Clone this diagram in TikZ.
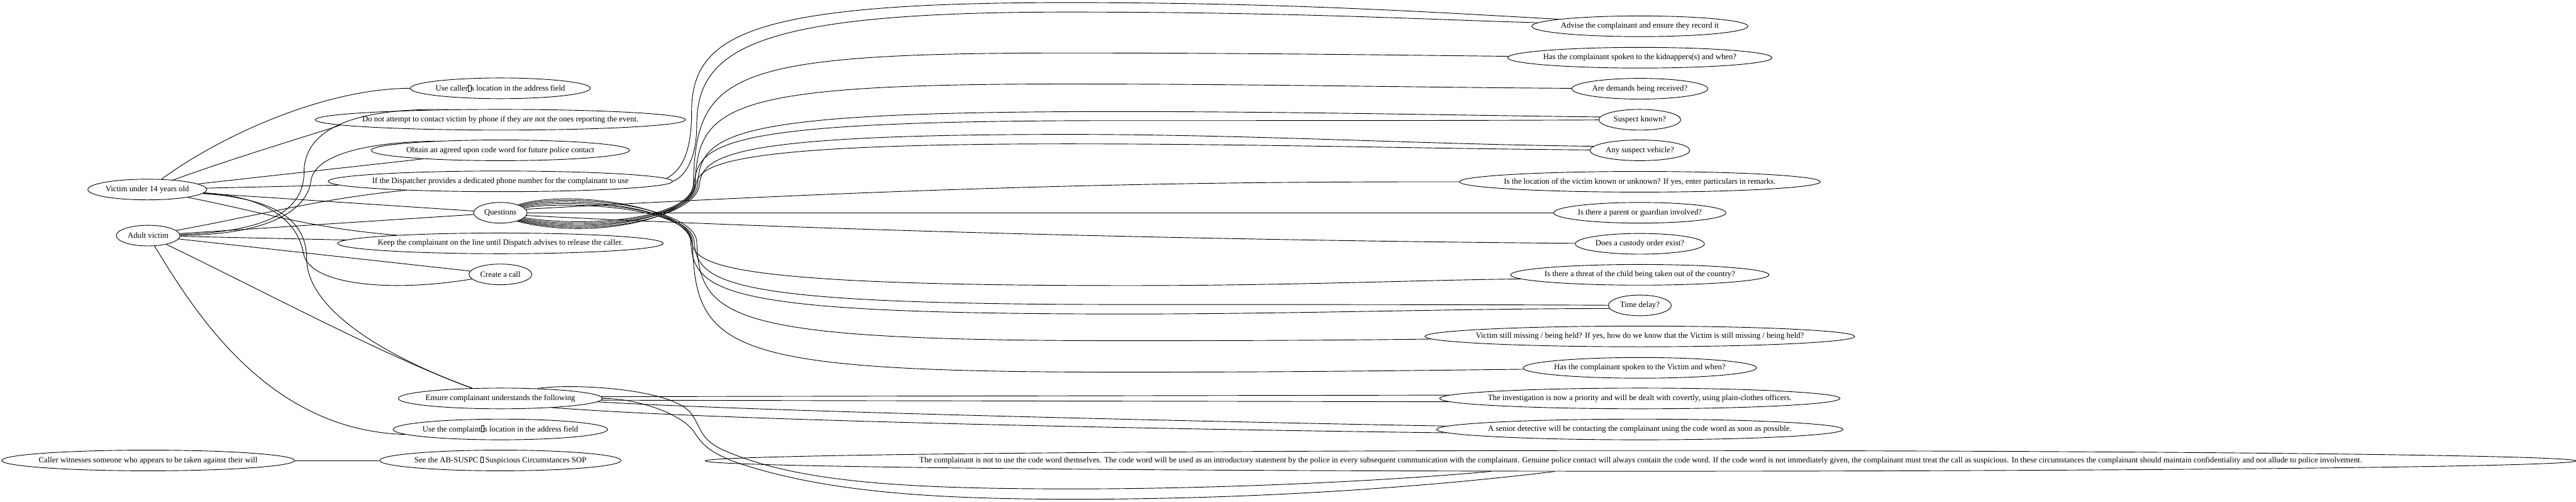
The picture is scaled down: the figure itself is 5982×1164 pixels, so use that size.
\documentclass[tikz,border=0pt]{standalone}
\usepackage{fontspec}
\setmainfont{Liberation Serif}
\usetikzlibrary{shapes.geometric}
\newcommand{\lbl}[1]{\makebox[0pt]{#1}}
\newcommand{\nochar}{{\fboxsep=0pt\fboxrule=0.5pt\fbox{\rule{0pt}{0.72em}\hspace{0.32em}}}}

\begin{document}
\begin{tikzpicture}[x=0.75pt, y=-0.75pt, line width=1pt,
  sopnode/.style={draw, ellipse, inner sep=0pt, minimum height=36pt, font=\fontsize{14pt}{16pt}\selectfont}]
  \useasboundingbox (0,0) rectangle (5982,1164);

  \node[sopnode, minimum width=207pt] (u14) at (342,440) {\lbl{Victim under 14 years old}};
  \node[sopnode, minimum width=111pt] (adult) at (344,547) {\lbl{Adult victim}};
  \node[sopnode, minimum width=510pt] (wit) at (344,1069) {\lbl{Caller witnesses someone who appears to be taken against their will}};

  \node[sopnode, minimum width=313.5pt] (ucl) at (1162,205) {\lbl{Use caller\nochar s location in the address field}};
  \node[sopnode, minimum width=645pt] (nophone) at (1162,278) {\lbl{Do not attempt to contact victim by phone if they are not the ones reporting the event.}};
  \node[sopnode, minimum width=450pt] (code) at (1162,349) {\lbl{Obtain an agreed upon code word for future police contact}};
  \node[sopnode, minimum width=600pt] (disp) at (1162,421) {\lbl{If the Dispatcher provides a dedicated phone number for the complainant to use}};
  \node[sopnode, minimum width=93pt] (quest) at (1162,494) {\lbl{Questions}};
  \node[sopnode, minimum width=567pt] (keep) at (1162,565) {\lbl{Keep the complainant on the line until Dispatch advises to release the caller.}};
  \node[sopnode, minimum width=109.5pt] (call) at (1162,637) {\lbl{Create a call}};
  \node[sopnode, minimum width=355.5pt] (ensure) at (1162,925) {\lbl{Ensure complainant understands the following}};
  \node[sopnode, minimum width=373.5pt] (ucompl) at (1162,997) {\lbl{Use the complaint\nochar s location in the address field}};
  \node[sopnode, minimum width=420pt] (suspc) at (1162,1069) {\lbl{See the AB-SUSPC \nochar{} Suspicious Circumstances SOP}};

  \node[sopnode, minimum width=376.5pt] (advise) at (3808,61) {\lbl{Advise the complainant and ensure they record it}};
  \node[sopnode, minimum width=460.5pt] (kidnap) at (3808,134) {\lbl{Has the complainant spoken to the kidnappers(s) and when?}};
  \node[sopnode, minimum width=237pt] (demands) at (3808,206) {\lbl{Are demands being received?}};
  \node[sopnode, minimum width=142.5pt] (suspect) at (3808,278) {\lbl{Suspect known?}};
  \node[sopnode, minimum width=174pt] (vehicle) at (3808,349) {\lbl{Any suspect vehicle?}};
  \node[sopnode, minimum width=628.5pt] (location) at (3808,422) {\lbl{Is the location of the victim known or unknown? If yes, enter particulars in remarks.}};
  \node[sopnode, minimum width=300pt] (parent) at (3808,494) {\lbl{Is there a parent or guardian involved?}};
  \node[sopnode, minimum width=225pt] (custody) at (3808,566) {\lbl{Does a custody order exist?}};
  \node[sopnode, minimum width=450pt] (threat) at (3808,638) {\lbl{Is there a threat of the child being taken out of the country?}};
  \node[sopnode, minimum width=109.5pt] (delay) at (3808,709) {\lbl{Time delay?}};
  \node[sopnode, minimum width=748.5pt] (missing) at (3808,781) {\lbl{Victim still missing / being held? If yes, how do we know that the Victim is still missing / being held?}};
  \node[sopnode, minimum width=406.5pt] (spoken) at (3808,854) {\lbl{Has the complainant spoken to the Victim and when?}};
  \node[sopnode, minimum width=697.5pt] (invest) at (3808,925) {\lbl{The investigation is now a priority and will be dealt with covertly, using plain-clothes officers.}};
  \node[sopnode, minimum width=708pt] (senior) at (3808,997) {\lbl{A senior detective will be contacting the complainant using the code word as soon as possible.}};
  \node[sopnode, minimum width=3258pt] (codeword) at (3810,1070) {\lbl{The complainant is not to use the code word themselves. The code word will be used as an introductory statement by the police in every subsequent communication with the complainant. Genuine police contact will always contain the code word. If the code word is not immediately given, the complainant must treat the call as suspicious. In these circumstances the complainant should maintain confidentiality and not allude to police involvement.}};

  \draw (u14) .. controls (520,310) and (760,205) .. (ucl);
  \draw (u14) .. controls (560,360) and (800,290) .. (nophone);
  \draw (u14) -- (code);
  \draw (u14) -- (disp);
  \draw (u14) -- (quest);
  \draw (u14) .. controls (600,490) and (720,530) .. (keep);
  \draw (u14) .. controls (600,455) and (690,500) .. (705,590) .. controls (720,660) and (900,680) .. (call);
  \draw (u14) .. controls (620,460) and (712,500) .. (712,600) .. controls (712,720) and (900,830) .. (ensure);

  \draw (adult) .. controls (620,538) and (706,490) .. (706,400) .. controls (706,300) and (820,250) .. (nophone.169);
  \draw (adult) .. controls (640,545) and (715,480) .. (722,420) .. controls (730,360) and (850,330) .. (code.172);
  \draw (adult) .. controls (600,500) and (750,460) .. (disp);
  \draw (adult) -- (quest);
  \draw (adult) -- (keep);
  \draw (adult) -- (call);
  \draw (adult) .. controls (620,680) and (900,830) .. (ensure);
  \draw (adult) .. controls (450,720) and (620,1000) .. (ucompl.183);

  \draw (wit) -- (suspc);

  \draw (disp.1) .. controls (1585,395) and (1606,350) .. (1606,260) .. controls (1606,80) and (1740,6) .. (2480,6) .. controls (3000,6) and (3350,30) .. (advise.175);
  \draw (disp.east) .. controls (1590,410) and (1618,370) .. (1618,290) .. controls (1618,110) and (1760,28) .. (2480,28) .. controls (3000,28) and (3300,45) .. (advise.178);

  \draw (quest.-12) .. controls (1380,530) and (1602,505) .. (1610,430) .. controls (1616,170) and (1685,123) .. (2480,123) .. controls (2900,123) and (3250,128) .. (kidnap);
  \draw (quest.-15) .. controls (1380,536) and (1606,505) .. (1614,430) .. controls (1620,242) and (1689,195) .. (2480,195) .. controls (2900,195) and (3300,203) .. (demands);
  \draw (quest.-18) .. controls (1380,542) and (1612,505) .. (1620,430) .. controls (1626,306) and (1695,259) .. (2600,259) .. controls (3000,259) and (3400,268) .. (suspect.176);
  \draw (quest.-21) .. controls (1380,548) and (1604,505) .. (1612,430) .. controls (1618,327) and (1687,280) .. (2600,280) .. controls (3000,280) and (3400,280) .. (suspect);
  \draw (quest.-24) .. controls (1380,554) and (1616,505) .. (1624,430) .. controls (1630,359) and (1699,312) .. (2480,312) .. controls (2900,312) and (3300,335) .. (vehicle.175);
  \draw (quest.-27) .. controls (1380,560) and (1608,505) .. (1616,430) .. controls (1622,381) and (1691,334) .. (2480,334) .. controls (2900,334) and (3300,345) .. (vehicle);

  \draw (quest.8) .. controls (2300,425) and (2900,422) .. (location);
  \draw (quest) -- (parent);
  \draw (quest.-6) .. controls (2000,540) and (3000,560) .. (custody);

  \draw (quest.12) .. controls (1320,466) and (1598,480) .. (1606,560) .. controls (1612,616) and (1681,663) .. (2620,663) .. controls (3000,663) and (3300,650) .. (threat.182);
  \draw (quest.15) .. controls (1320,459) and (1604,480) .. (1612,560) .. controls (1618,660) and (1687,707) .. (2620,707) .. controls (3000,707) and (3400,707) .. (delay);
  \draw (quest.18) .. controls (1320,452) and (1596,480) .. (1604,560) .. controls (1610,682) and (1679,729) .. (2620,729) .. controls (3000,729) and (3400,716) .. (delay.186);
  \draw (quest.21) .. controls (1320,445) and (1610,480) .. (1618,560) .. controls (1624,744) and (1693,791) .. (2620,791) .. controls (2900,791) and (3100,790) .. (missing);
  \draw (quest.24) .. controls (1320,438) and (1600,480) .. (1608,560) .. controls (1614,817) and (1683,864) .. (2620,864) .. controls (3000,864) and (3300,860) .. (spoken);

  \draw (ensure.1) -- (invest.179);
  \draw (ensure.-1) -- (invest.181);
  \draw (ensure.-2) .. controls (1700,952) and (2600,975) .. (senior.179);
  \draw (ensure.-10) .. controls (1650,975) and (2600,995) .. (senior.181);
  \draw (ensure.15) .. controls (1320,890) and (1560,900) .. (1605,960) .. controls (1630,995) and (1625,1020) .. (1680,1045) .. controls (1850,1120) and (2100,1135) .. (2493,1135) .. controls (2900,1135) and (3300,1110) .. (codeword.184);
  \draw (ensure.east) .. controls (1480,925) and (1580,960) .. (1610,1000) .. controls (1630,1030) and (1640,1045) .. (1700,1070) .. controls (1900,1140) and (2150,1159) .. (2493,1159) .. controls (3000,1159) and (3400,1120) .. (codeword.187);
\end{tikzpicture}
\end{document}
